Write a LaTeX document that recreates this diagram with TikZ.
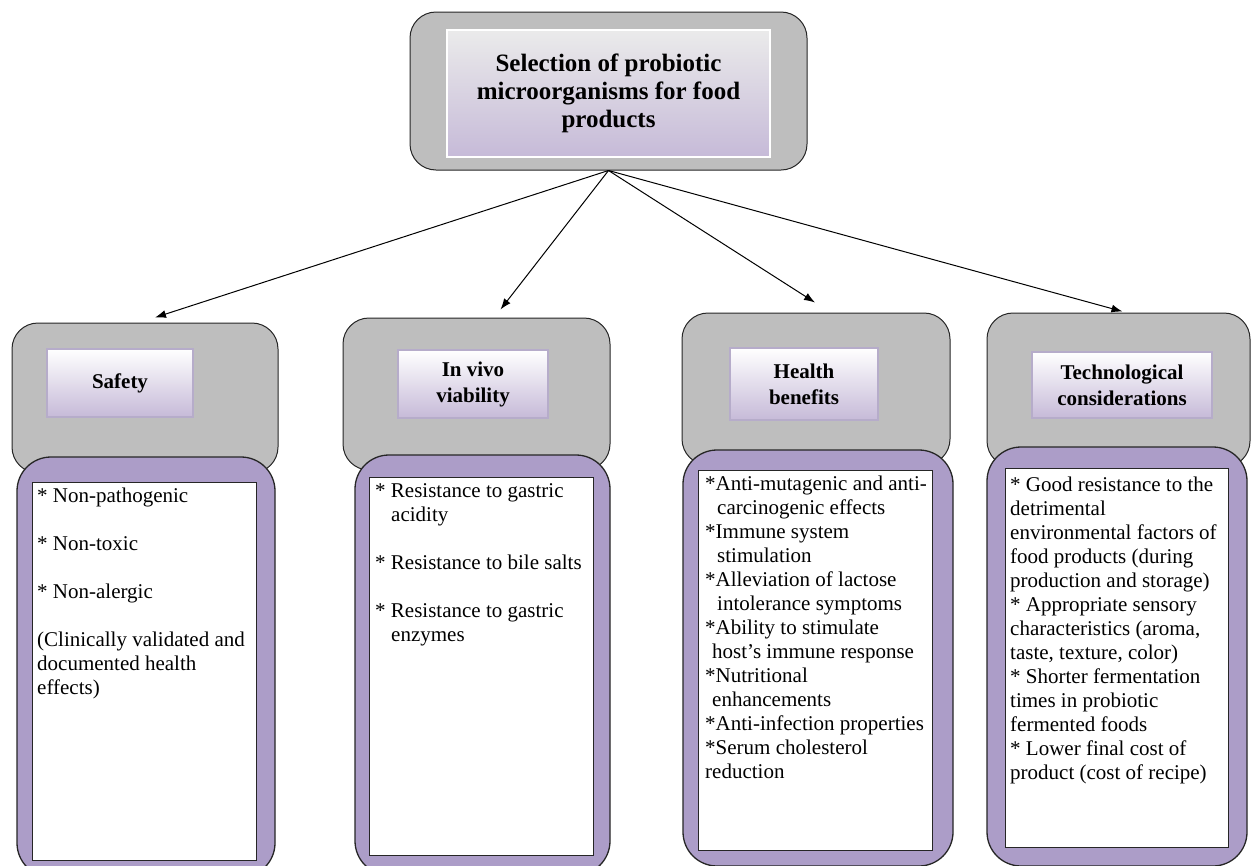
\documentclass[tikz,border=0pt]{standalone}
\usepackage{fontspec}
\setmainfont{Liberation Serif}
\usetikzlibrary{arrows.meta}

\definecolor{boxgray}{RGB}{190,190,190}
\definecolor{boxlilac}{RGB}{172,157,200}
\definecolor{headlilac}{RGB}{198,186,216}
\definecolor{headedge}{RGB}{182,172,202}

\tikzset{
  outer box/.style={draw=black!85, fill=boxgray, rounded corners=26pt, line width=1pt, inner sep=0pt},
  list box/.style={draw=black!85, fill=boxlilac, rounded corners=34pt, line width=1.3pt, inner sep=0pt},
  sheet/.style={draw=black!85, fill=white, line width=1pt, inner sep=0pt},
  head/.style={draw=headedge, line width=1.2pt, top color=white, bottom color=headlilac,
               inner sep=0pt, align=center, font=\bfseries\fontsize{21}{26}\selectfont},
  title box/.style={draw=white, line width=2pt, top color=black!8, bottom color=headlilac,
               inner sep=0pt, align=center, font=\bfseries\fontsize{25}{28}\selectfont},
  list text/.style={anchor=north west, align=left, inner sep=0pt, font=\fontsize{21}{24}\selectfont},
  link/.style={-{Latex[length=11pt,width=8pt]}, line width=1pt}
}

\begin{document}
\begin{tikzpicture}[x=1pt, y=-1pt]
\useasboundingbox (0,0) rectangle (1252,865);

% top
\node[outer box, minimum width=397pt, minimum height=158pt] (sel) at (608.5,91) {};
\node[title box, minimum width=323pt, minimum height=127pt] (seltitle) at (608.5,93.5)
  {Selection of probiotic\\microorganisms for food\\products};

% grey blocks
\node[outer box, minimum width=266pt, minimum height=150pt] (safe) at (145,398) {};
\node[outer box, minimum width=267pt, minimum height=152pt] (vivo) at (476.5,394) {};
\node[outer box, minimum width=268pt, minimum height=152pt] (health) at (816,389) {};
\node[outer box, minimum width=263pt, minimum height=154pt] (tech) at (1118.5,390) {};

% lilac blocks
\node[list box, minimum width=258pt, minimum height=420pt] (safelist) at (146,667) {};
\node[list box, minimum width=255pt, minimum height=420pt] (vivolist) at (482.5,665) {};
\node[list box, minimum width=270pt, minimum height=416pt] (healthlist) at (818,658) {};
\node[list box, minimum width=260pt, minimum height=419pt] (techlist) at (1117,656.5) {};

% white sheets
\node[sheet, minimum width=224pt, minimum height=378pt] (safesheet) at (144,671) {};
\node[sheet, minimum width=224pt, minimum height=378pt] (vivosheet) at (481,666) {};
\node[sheet, minimum width=234pt, minimum height=380pt] (healthsheet) at (815,660) {};
\node[sheet, minimum width=223pt, minimum height=379pt] (techsheet) at (1116.5,657.5) {};

% headings
\node[head, minimum width=146pt, minimum height=68pt] (safehead) at (120,383) {Safety};
\node[head, minimum width=150pt, minimum height=68pt] (vivohead) at (473,384) {In vivo\\viability};
\node[head, minimum width=148pt, minimum height=72pt] (healthhead) at (804,384) {Health\\benefits};
\node[head, minimum width=180pt, minimum height=66pt] (techhead) at (1122,385) {Technological\\considerations};

% lists
\node[list text] (safetext) at (37,488)
  {* Non-pathogenic\\[24pt]* Non-toxic\\[24pt]* Non-alergic\\[24pt]
   (Clinically validated and\\documented health\\effects)};
\node[list text] (vivotext) at (375,483)
  {* Resistance to gastric\\\hspace*{16pt}acidity\\[24pt]* Resistance to bile salts\\[24pt]
   * Resistance to gastric\\\hspace*{16pt}enzymes};
\node[list text] (healthtext) at (705,476)
  {*Anti-mutagenic and anti-\\\hspace*{12pt}carcinogenic effects\\*Immune system\\
   \hspace*{12pt}stimulation\\*Alleviation of lactose\\\hspace*{12pt}intolerance symptoms\\
   *Ability to stimulate\\\hspace*{7pt}host's immune response\\*Nutritional\\
   \hspace*{7pt}enhancements\\*Anti-infection properties\\*Serum cholesterol\\reduction};
\node[list text] (techtext) at (1010,477)
  {* Good resistance to the\\detrimental\\environmental factors of\\food products (during\\
   production and storage)\\* Appropriate sensory\\characteristics (aroma,\\
   taste, texture, color)\\* Shorter fermentation\\times in probiotic\\fermented foods\\
   * Lower final cost of\\product (cost of recipe)};

% arrows
\draw[link] (sel.south) -- ([xshift=10pt,yshift=5pt]safe.north);
\draw[link] (sel.south) -- ([xshift=24pt,yshift=8pt]vivo.north);
\draw[link] (sel.south) -- ([xshift=-1pt,yshift=10pt]health.north);
\draw[link] (sel.south) -- ([xshift=4pt,yshift=1pt]tech.north);
\end{tikzpicture}
\end{document}
